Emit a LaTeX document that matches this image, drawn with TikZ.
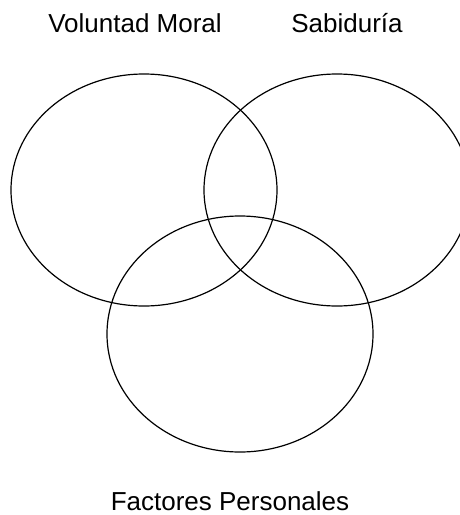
\documentclass[tikz,border=0pt]{standalone}
\usepackage{fontspec}
\setmainfont{Liberation Sans}
\begin{document}
\begin{tikzpicture}[x=1pt, y=-1pt,
    conjunto/.style={draw=black, line width=1.2pt},
    etiqueta/.style={anchor=base, font=\fontsize{26}{31}\selectfont}]
  \clip (0,0) rectangle (460,515);
  \draw[conjunto] (144,190) ellipse [x radius=133pt, y radius=116pt];
  \draw[conjunto] (337,190) ellipse [x radius=133pt, y radius=116pt];
  \draw[conjunto] (240,334) ellipse [x radius=133pt, y radius=118pt];
  \node[etiqueta] (voluntad) at (135,32) {Voluntad Moral};
  \node[etiqueta] (sabiduria) at (347,32) {Sabiduría};
  \node[etiqueta] (factores) at (230,510) {Factores Personales};
\end{tikzpicture}
\end{document}
